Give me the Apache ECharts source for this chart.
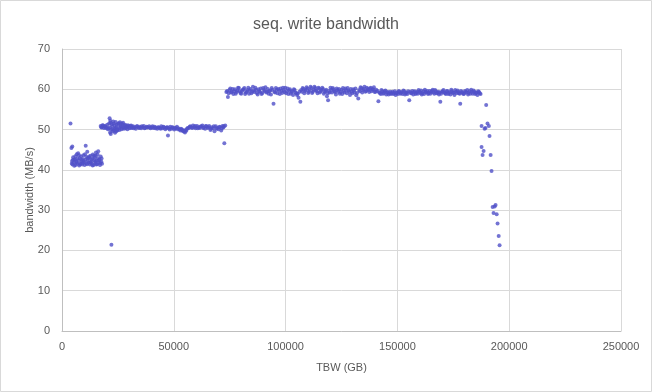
<!DOCTYPE html>
<html><head><meta charset="utf-8">
<script src="https://cdn.jsdelivr.net/npm/echarts@6/dist/echarts.min.js"></script>
<style>html,body{margin:0;padding:0;background:#fff}#c{width:652px;height:392px}</style>
</head><body><div id="c"></div>
<script>
const titleText = 'seq. write bandwidth';
const xName = 'TBW (GB)';
const yName = 'bandwidth (MB/s)';

const segA = [[3800,51.5],[4200,45.4],[4500,42.2],[4600,45.8],[4700,41.3],[5000,43.1],[5300,41.8],[5600,42.6],[5800,42.6],[6100,41.2],[6400,42.0],[6600,43.9],[6900,41.5],[7200,44.1],[7400,42.4],[7700,41.1],[8000,42.9],[8200,41.6],[8500,43.4],[8800,42.1],[9000,41.3],[9300,42.7],[9600,43.6],[9800,41.9],[10100,41.2],[10400,42.5],[10600,46.0],[10900,43.2],[11200,41.4],[11300,44.5],[11400,42.2],[11700,43.0],[12000,41.8],[12200,42.9],[12500,41.3],[12800,43.5],[13000,42.0],[13300,41.5],[13600,42.8],[13800,43.8],[14100,41.2],[14400,42.4],[14600,43.1],[14900,41.7],[15000,43.5],[15200,44.3],[15400,42.3],[15700,41.4],[16000,42.9],[16200,44.6],[16500,41.8],[16800,42.6],[17000,41.2],[17300,43.3],[17600,42.0],[17900,41.5]];
const segA2 = [[4400,41.6],[4900,42.5],[5500,41.0],[6000,43.4],[6500,41.9],[7000,42.8],[7500,43.6],[8100,41.4],[8700,42.5],[9200,41.7],[9700,42.2],[10300,43.9],[10800,41.6],[11500,42.8],[12100,43.3],[12700,41.9],[13200,42.5],[13700,41.1],[14300,43.5],[14800,42.1],[15300,41.3],[15900,43.8],[16400,42.4],[17100,41.7],[17700,42.8]];

const segB = [[17300,50.9],[17800,50.6],[18400,51.0],[19000,50.7],[19600,50.4],[20200,51.2],[20800,50.3],[21300,52.8],[21500,49.3],[21700,51.7],[21900,50.0],[22100,21.4],[22400,50.8],[22700,49.6],[23100,51.5],[23400,50.2],[23700,49.2],[24000,51.9],[24300,50.6],[24700,49.8],[25100,51.4],[25500,50.4],[25900,51.8],[26300,50.9],[26700,50.1],[27100,51.3],[27500,50.6],[28000,51.0],[28500,50.3],[29000,50.8],[29500,51.1],[30000,50.5],[30600,50.9],[31200,50.4],[31800,50.8],[32400,50.6],[33000,50.2],[33600,50.9],[34200,50.5],[34800,50.7],[35400,50.3],[36000,50.6],[36600,50.9],[37200,50.4],[37800,50.7],[38400,50.5],[39000,50.8],[39600,50.3],[40200,50.6],[40800,50.4],[41400,50.7],[42000,50.5],[42600,50.2],[43200,50.6],[43800,50.4],[44400,50.8],[45000,50.3],[45600,50.6],[46200,50.1],[46800,50.5],[47400,48.5],[47800,50.3],[48400,50.7],[49000,50.2],[49600,50.5],[50200,50.0],[50800,50.4],[51400,50.7],[52000,50.3],[52600,50.0],[53200,50.2],[53800,49.9],[54400,49.8],[55000,49.3],[55600,49.7],[56200,50.4],[56800,50.4],[57400,50.8],[58000,50.5],[58600,51.0],[59200,50.6],[59800,50.3],[60400,50.9],[61000,50.6],[61600,50.4],[62200,50.8],[62800,51.0],[63400,50.5],[64000,50.2],[64600,50.8],[65200,50.4],[65800,50.9],[66400,49.9],[67000,50.6],[67600,50.3],[68200,49.6],[68800,50.8],[69400,50.4],[70000,50.1],[70600,50.7],[71200,49.8],[71800,50.9],[72200,50.5],[72600,46.6],[73000,51.0]];
const segB2 = [[17600,50.5],[18100,51.1],[18700,50.4],[19300,50.9],[19900,50.6],[20500,50.1],[21100,51.5],[21400,50.5],[21600,52.2],[21800,48.9],[22300,51.3],[22600,50.1],[22900,52.0],[23250,49.8],[23550,51.0],[23850,50.3],[24150,49.5],[24500,51.2],[24900,50.0],[25300,51.6],[25700,49.9],[26100,50.7],[26500,51.5],[26900,50.4],[27300,51.7],[27750,50.2],[28250,51.2],[28750,50.6],[29250,50.1],[29750,50.9],[30300,50.3],[30900,51.0],[31500,50.6],[32100,50.3],[33300,50.7],[34500,50.4],[35700,50.8],[36900,50.3],[38100,50.6],[39300,50.5],[40500,50.8],[41700,50.3],[42900,50.5],[44100,50.2],[45300,50.7],[46500,50.4],[47100,50.6],[48100,50.0],[49300,50.6],[50500,50.3],[51700,50.1],[52900,49.8],[53500,50.1],[54100,49.6],[54700,49.5],[55300,49.9],[55900,50.2],[57100,50.7],[58300,50.4],[59500,50.9],[60700,50.3],[61900,50.7],[63100,50.4],[64300,50.9],[65500,50.6],[66700,50.2],[67900,50.8],[69100,50.2],[70300,50.6],[71500,50.3],[72400,50.8]];

const segC = [[73500,59.3],[74200,58.1],[74900,59.8],[75600,59.2],[76300,60.1],[77000,59.5],[77700,58.9],[78400,59.7],[79100,60.3],[79800,59.1],[80500,59.6],[81200,60.0],[81900,58.8],[82600,59.4],[83300,60.4],[84000,59.7],[84700,59.0],[85400,60.6],[86100,59.3],[86800,59.9],[87500,58.7],[88200,59.5],[88900,60.2],[89600,59.1],[90300,59.8],[91000,60.5],[91700,59.4],[92400,58.9],[93100,59.7],[93800,60.3],[94600,56.4],[95300,59.2],[96000,59.9],[96700,60.1],[97400,58.8],[98100,59.6],[98800,60.4],[99500,59.3],[100200,59.0],[100900,60.2],[101600,59.7],[102300,58.9],[103000,59.5],[103700,60.0],[104400,59.2],[105100,58.6],[105800,57.9],[106600,56.9],[107300,59.4],[108000,60.1],[108700,59.6],[109400,60.5],[110100,59.1],[110800,59.8],[111500,60.3],[112200,59.4],[112900,60.6],[113600,59.7],[114300,59.0],[115000,60.2],[115700,59.5],[116400,60.4],[117100,58.9],[117800,59.6],[118500,58.3],[119000,57.3],[119700,59.2],[120400,59.9],[121100,60.3],[121800,59.5],[122500,58.7],[123200,59.8],[123900,60.1],[124600,59.3],[125300,58.8],[126000,59.6],[126700,60.2],[127400,59.0],[128100,59.7],[128800,58.6],[129500,59.4],[130200,60.0],[130900,59.2],[131600,58.5],[132500,57.7],[133200,59.5],[133900,60.3],[134600,59.8],[135300,60.6],[136000,59.6],[136700,60.1],[137400,59.3],[138100,60.4],[138800,59.9],[139500,60.5],[140200,59.4],[141500,57.0],[142200,59.1],[142900,59.8],[143600,58.9],[144300,59.5],[145000,58.7],[145700,59.3],[146400,59.0],[147100,58.8],[147800,59.4],[148500,59.1],[149200,58.6],[149900,59.2],[150600,59.6],[151300,58.9],[152000,59.3],[152700,59.7],[153400,58.7],[154100,59.2],[154800,59.5],[155300,57.3],[156000,59.0],[156700,59.6],[157400,59.3],[158100,58.8],[158800,59.4],[159500,59.8],[160200,59.1],[160900,58.7],[161600,59.5],[162300,59.9],[163000,59.2],[163700,58.8],[164400,59.6],[165100,59.3],[165800,59.9],[166500,58.9],[167200,59.5],[167900,59.1],[168600,58.7],[169200,56.9],[169900,59.4],[170600,59.8],[171300,59.0],[172000,59.5],[172700,58.8],[173400,59.3],[174100,59.9],[174800,59.1],[175500,58.6],[176200,59.4],[176900,59.7],[177600,59.0],[178100,56.4],[178800,59.3],[179500,58.8],[180200,59.6],[180900,59.2],[181600,58.7],[182300,59.5],[183000,59.9],[183700,58.9],[184400,59.4],[185100,59.1],[185800,58.6],[186500,59.3],[187200,58.8]];
const segC2 = [[73850,59.6],[74550,59.0],[75250,60.2],[75950,59.4],[76650,58.8],[77350,60.0],[78050,59.3],[78750,60.4],[79450,59.5],[80150,58.9],[80850,59.9],[81550,60.3],[82250,59.2],[82950,59.8],[83650,58.9],[84350,60.1],[85050,59.4],[85750,59.7],[86450,60.4],[87150,59.1],[87850,60.0],[88550,59.3],[89250,58.8],[89950,60.3],[90650,59.6],[91350,59.2],[92050,60.1],[92750,59.5],[93450,58.7],[94150,59.9],[94950,59.4],[95650,60.3],[96350,59.0],[97050,59.7],[97750,60.2],[98450,59.1],[99150,59.8],[99850,60.4],[100550,59.5],[101250,58.8],[101950,60.0],[102650,59.3],[103350,58.6],[104050,59.8],[104750,59.0],[105450,58.9],[106200,59.4],[106950,59.8],[107650,60.3],[108350,59.0],[109050,59.8],[109750,60.2],[110450,59.4],[111150,60.6],[111850,59.1],[112550,59.9],[113250,60.3],[113950,59.5],[114650,60.4],[115350,59.2],[116050,59.8],[116750,60.1],[117450,59.3],[118150,59.9],[118800,59.0],[119350,59.6],[120050,60.4],[120750,59.2],[121450,60.0],[122150,59.3],[122850,60.2],[123550,59.4],[124250,58.9],[124950,59.9],[125650,60.3],[126350,59.2],[127050,59.8],[127750,60.3],[128450,59.4],[129150,60.1],[129850,59.0],[130550,59.7],[131250,60.2],[131950,59.1],[132850,59.8],[133550,60.5],[134250,59.2],[134950,60.1],[135650,59.4],[136350,60.4],[137050,59.8],[137750,60.2],[138450,59.5],[139150,60.0],[139850,59.3],[140550,59.9],[141150,59.6],[141850,59.2],[142550,58.8],[143250,59.5],[143950,59.1],[144650,59.7],[145350,59.2],[146050,58.7],[146750,59.4],[147450,59.1],[148150,58.8],[148850,59.5],[149550,59.0],[150250,58.8],[150950,59.4],[151650,59.1],[152350,58.8],[153050,59.5],[153750,59.0],[154450,58.8],[155650,59.4],[156350,59.1],[157050,58.7],[157750,59.5],[158450,59.1],[159150,58.9],[159850,59.4],[160550,59.7],[161250,59.0],[161950,58.8],[162650,59.4],[163350,59.6],[164050,59.1],[164750,58.9],[165450,59.6],[166150,59.2],[166850,59.8],[167550,59.0],[168250,59.4],[168900,59.2],[169550,58.9],[170250,59.5],[170950,59.2],[171650,58.8],[172350,59.6],[173050,59.1],[173750,58.7],[174450,59.5],[175150,59.2],[175850,59.8],[176550,59.0],[177250,59.3],[177850,58.9],[178450,59.6],[179150,59.1],[179850,58.9],[180550,59.4],[181250,59.8],[181950,59.1],[182650,58.9],[183350,59.4],[184050,59.7],[184750,58.8],[185450,59.2],[186150,59.5],[186850,59.0]];

const segD = [[187650,50.9],[187650,45.7],[188100,43.7],[188550,44.7],[189000,50.2],[189400,50.4],[189700,56.1],[190300,51.5],[190900,50.9],[191200,48.4],[191700,43.7],[192100,39.7],[192600,30.8],[193000,29.3],[193500,30.9],[193900,31.3],[194400,29.0],[194800,26.7],[195300,23.6],[195700,21.3]];

const xTicks = {min: 0, max: 250000, interval: 50000};
const yTicks = {min: 0, max: 70, interval: 10};

const chart = echarts.init(document.getElementById('c'));
const lab = {color: '#595959', fontFamily: 'Liberation Sans', fontSize: 11};
chart.setOption({
  animation: false,
  backgroundColor: '#fff',
  title: {text: titleText, left: 'center', top: 12,
    textStyle: {color: '#595959', fontFamily: 'Liberation Sans', fontSize: 16, fontWeight: 'normal'}},
  graphic: [{type: 'rect', shape: {x: 0.5, y: 0.5, width: 651, height: 391},
    style: {fill: 'none', stroke: '#d9d9d9', lineWidth: 1}, silent: true}],
  grid: {left: 62, right: 31, top: 49, bottom: 61},
  xAxis: {type: 'value', min: xTicks.min, max: xTicks.max, interval: xTicks.interval,
    name: xName, nameLocation: 'middle', nameGap: 31, nameTextStyle: lab, nameMoveOverlap: false,
    axisLine: {show: true, lineStyle: {color: '#bfbfbf'}}, axisTick: {show: false},
    axisLabel: Object.assign({margin: 10, formatter: v => String(v)}, lab),
    splitLine: {show: true, lineStyle: {color: '#d9d9d9'}}},
  yAxis: {type: 'value', min: yTicks.min, max: yTicks.max, interval: yTicks.interval,
    name: yName, nameLocation: 'middle', nameGap: 27, nameTextStyle: lab, nameMoveOverlap: false,
    axisLine: {show: true, lineStyle: {color: '#bfbfbf'}}, axisTick: {show: false},
    axisLabel: Object.assign({margin: 12}, lab),
    splitLine: {show: true, lineStyle: {color: '#d9d9d9'}}},
  series: [segA, segA2, segB, segB2, segC, segC2, segD].map(d => ({
    type: 'scatter', data: d, symbol: 'circle', symbolSize: 4,
    itemStyle: {color: '#5050c8'}
  }))
});
</script></body></html>
